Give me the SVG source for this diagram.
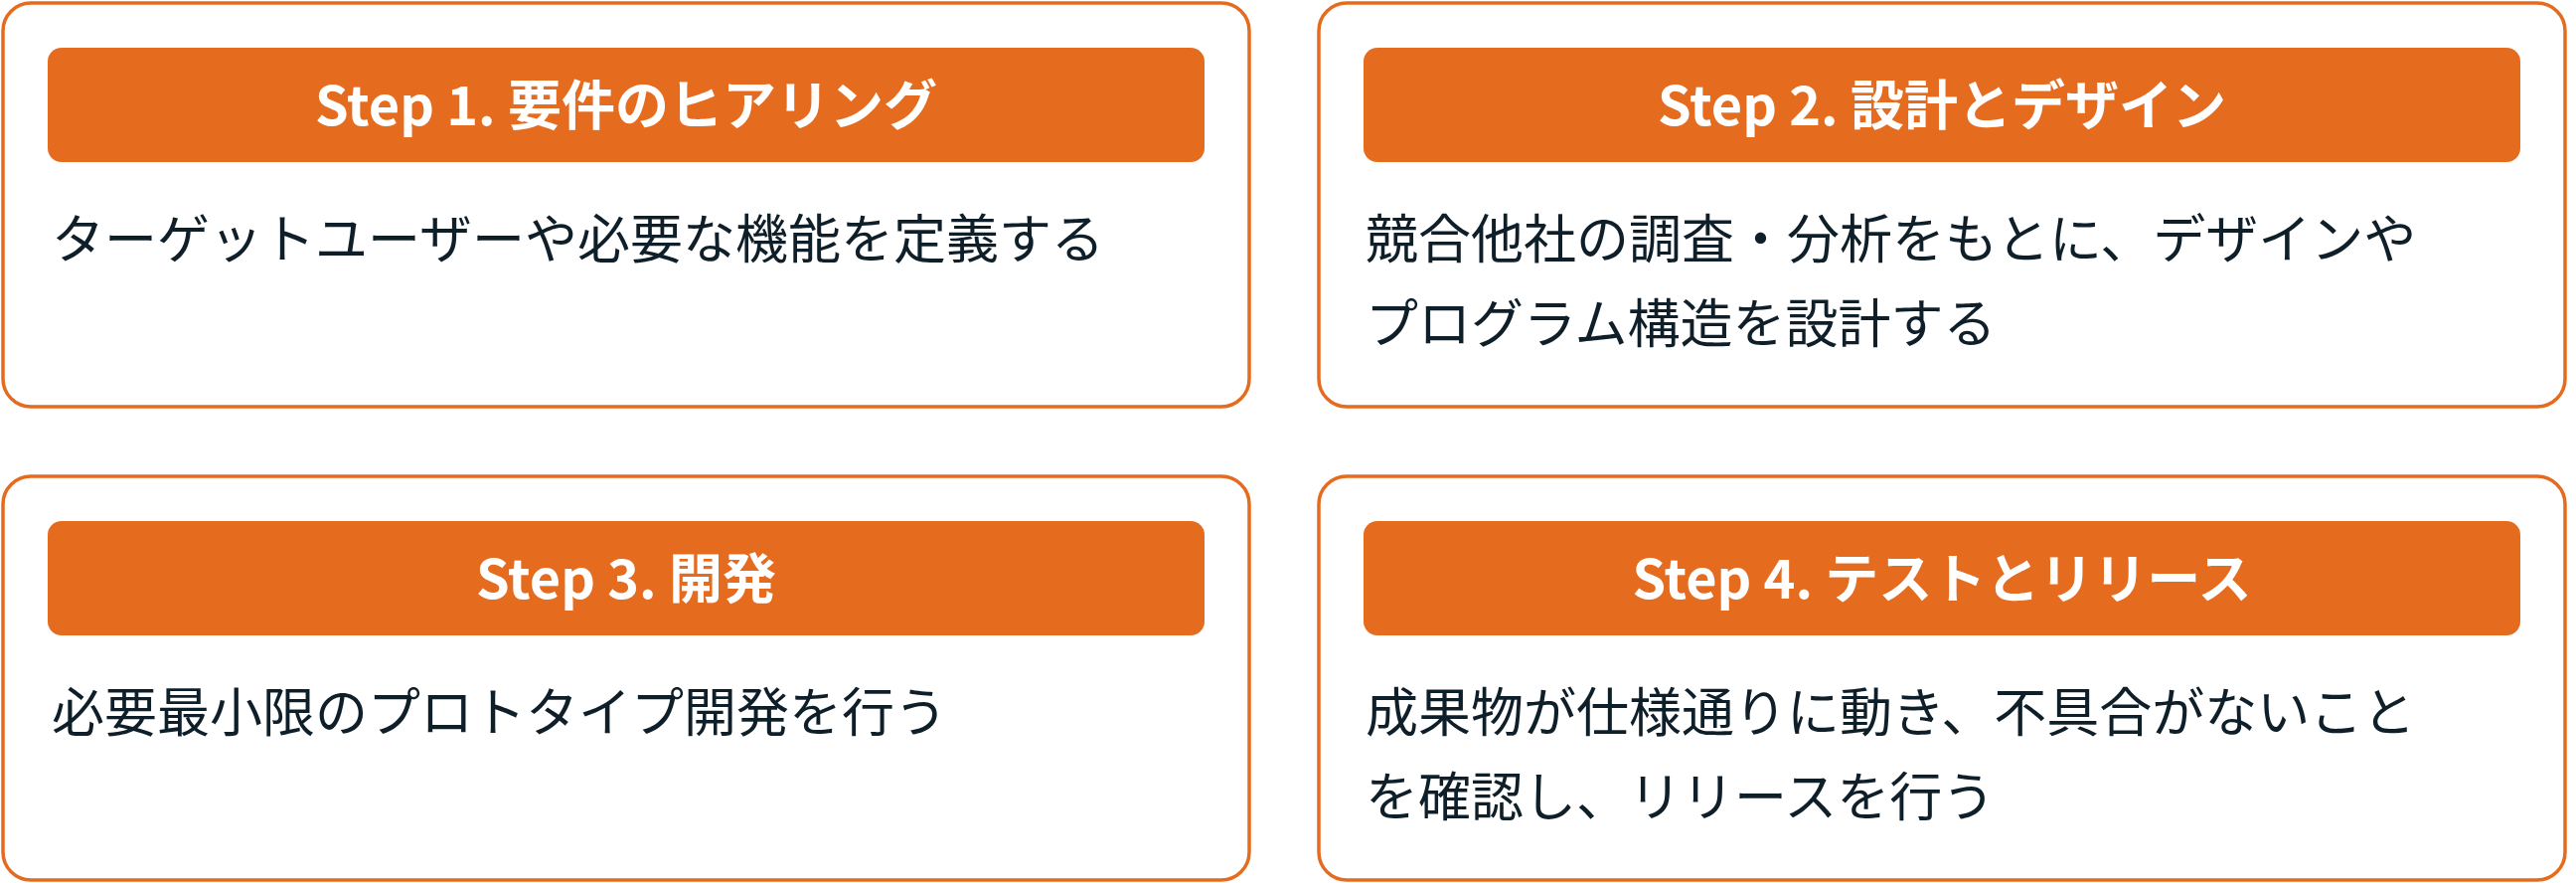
<svg xmlns="http://www.w3.org/2000/svg" width="2592" height="888" viewBox="0 0 2592 888">
<style>
.card{fill:#fff;stroke:#E56B1F;stroke-width:3.5}
.hd{fill:#E56B1F}
.ht{fill:#fff;font-family:"Noto Sans CJK JP",sans-serif;font-weight:700;font-size:54px;text-anchor:middle}
.bt{fill:#0f1f2a;font-family:"Noto Sans CJK JP",sans-serif;font-size:53px}
</style>
<rect width="2592" height="888" fill="#fff"/>
<g id="step1">
<rect class="card" x="3" y="3" width="1254" height="406" rx="28"/>
<rect class="hd" x="48" y="48" width="1164" height="115" rx="14"/>
<text class="ht" x="630" y="126">Step 1. 要件のヒアリング</text>
<text class="bt" x="52" y="260">ターゲットユーザーや必要な機能を定義する</text>
</g>
<g id="step2">
<rect class="card" x="1327" y="3" width="1254" height="406" rx="28"/>
<rect class="hd" x="1372" y="48" width="1164" height="115" rx="14"/>
<text class="ht" x="1954" y="126">Step 2. 設計とデザイン</text>
<text class="bt" x="1374" y="260">競合他社の調査・分析をもとに、デザインや</text>
<text class="bt" x="1374" y="345">プログラム構造を設計する</text>
</g>
<g id="step3">
<rect class="card" x="3" y="479" width="1254" height="406" rx="28"/>
<rect class="hd" x="48" y="524" width="1164" height="115" rx="14"/>
<text class="ht" x="630" y="602">Step 3. 開発</text>
<text class="bt" x="52" y="736">必要最小限のプロトタイプ開発を行う</text>
</g>
<g id="step4">
<rect class="card" x="1327" y="479" width="1254" height="406" rx="28"/>
<rect class="hd" x="1372" y="524" width="1164" height="115" rx="14"/>
<text class="ht" x="1954" y="602">Step 4. テストとリリース</text>
<text class="bt" x="1374" y="736">成果物が仕様通りに動き、不具合がないこと</text>
<text class="bt" x="1374" y="821">を確認し、リリースを行う</text>
</g>
<g id="connectors"/>
</svg>
